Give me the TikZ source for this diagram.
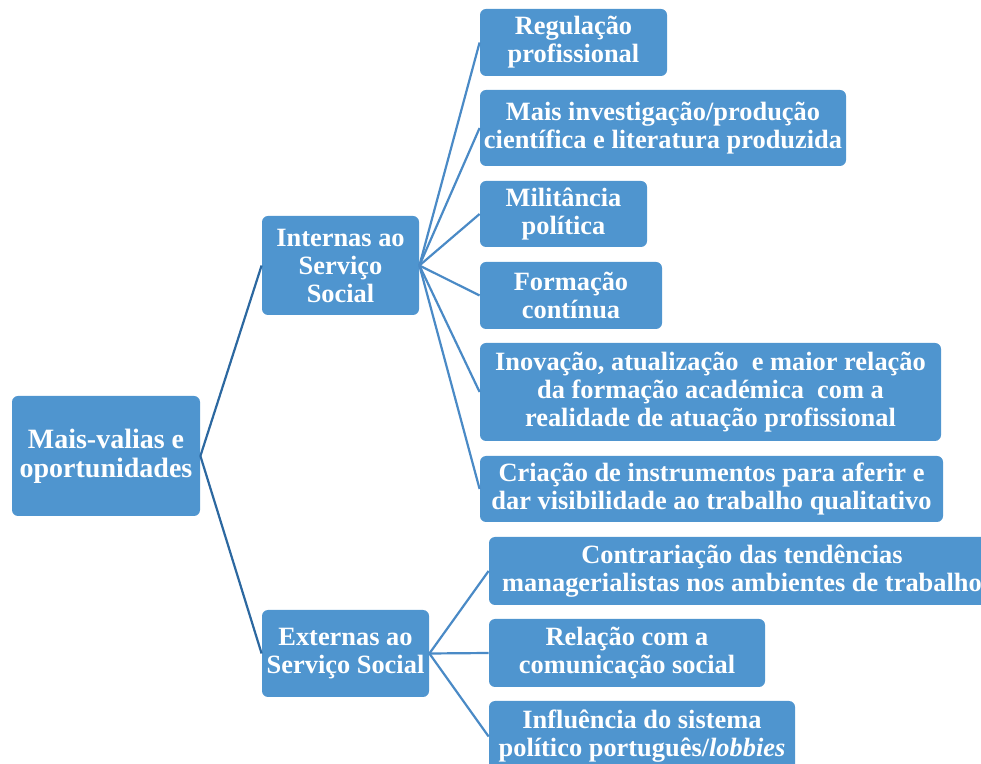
\documentclass[tikz,border=0pt]{standalone}
\usepackage{fontspec}
\setmainfont{Liberation Serif}
\usetikzlibrary{positioning}

\definecolor{boxblue}{RGB}{79,149,207}
\definecolor{darkline}{RGB}{44,104,160}
\definecolor{lightline}{RGB}{74,138,198}

\tikzset{
  box/.style={rectangle, rounded corners=3pt, fill=boxblue, text=white,
    align=center, inner sep=0pt, font=\fontsize{13.2}{14}\selectfont\bfseries},
  bigbox/.style={box, font=\fontsize{14}{14.5}\selectfont\bfseries},
  trunk/.style={draw=darkline, line width=1.1pt},
  twig/.style={draw=lightline, line width=1.1pt}
}

\begin{document}
\begin{tikzpicture}[x=0.5pt, y=-0.5pt]
\useasboundingbox (0,0) rectangle (981,764);
\clip (0,0) rectangle (981,764);
\node[bigbox, minimum width=94pt, minimum height=60pt] (root) at (106,456) {Mais-valias e\\oportunidades};
\node[box, minimum width=78.5pt, minimum height=49.5pt] (int) at (340.5,265.5) {Internas ao\\Serviço\\Social};
\node[box, minimum width=83.5pt, minimum height=43.5pt] (ext) at (345.5,653.5) {Externas ao\\Serviço Social};

\node[box, minimum width=93.5pt, minimum height=33.5pt] (reg) at (573.5,42.5) {Regulação\\profissional};
\node[box, minimum width=183pt, minimum height=38pt] (inv) at (663,128) {Mais investigação/produção\\científica e literatura produzida};
\node[box, minimum width=83.5pt, minimum height=33pt] (mil) at (563.5,214) {Militância\\política};
\node[box, minimum width=91pt, minimum height=33.5pt] (form) at (571,295.5) {Formação\\contínua};
\node[box, minimum width=230.5pt, minimum height=49pt] (inov) at (710.5,392) {Inovação, atualização\ \ e maior relação\\da formação académica\ \ com a\\realidade de atuação profissional};
\node[box, minimum width=231.5pt, minimum height=33pt] (cria) at (711.5,489) {Criação de instrumentos para aferir e\\dar visibilidade ao trabalho qualitativo};

\node[box, minimum width=253pt, minimum height=34pt] (contr) at (742,571) {Contrariação das tendências\\managerialistas nos ambientes de trabalho};
\node[box, minimum width=138pt, minimum height=34pt] (rel) at (627,653) {Relação com a\\comunicação social};
\node[box, minimum width=153pt, minimum height=35.5pt] (infl) at (642,736.5) {Influência do sistema\\político português/\textit{lobbies}};

\draw[trunk] (root.east) -- (int.west);
\draw[trunk] (root.east) -- (ext.west);
\foreach \n in {reg,inv,mil,form,inov,cria}
  \draw[twig] (int.east) -- (\n.west);
\foreach \n in {contr,rel,infl}
  \draw[twig] (ext.east) -- (\n.west);
\end{tikzpicture}
\end{document}
